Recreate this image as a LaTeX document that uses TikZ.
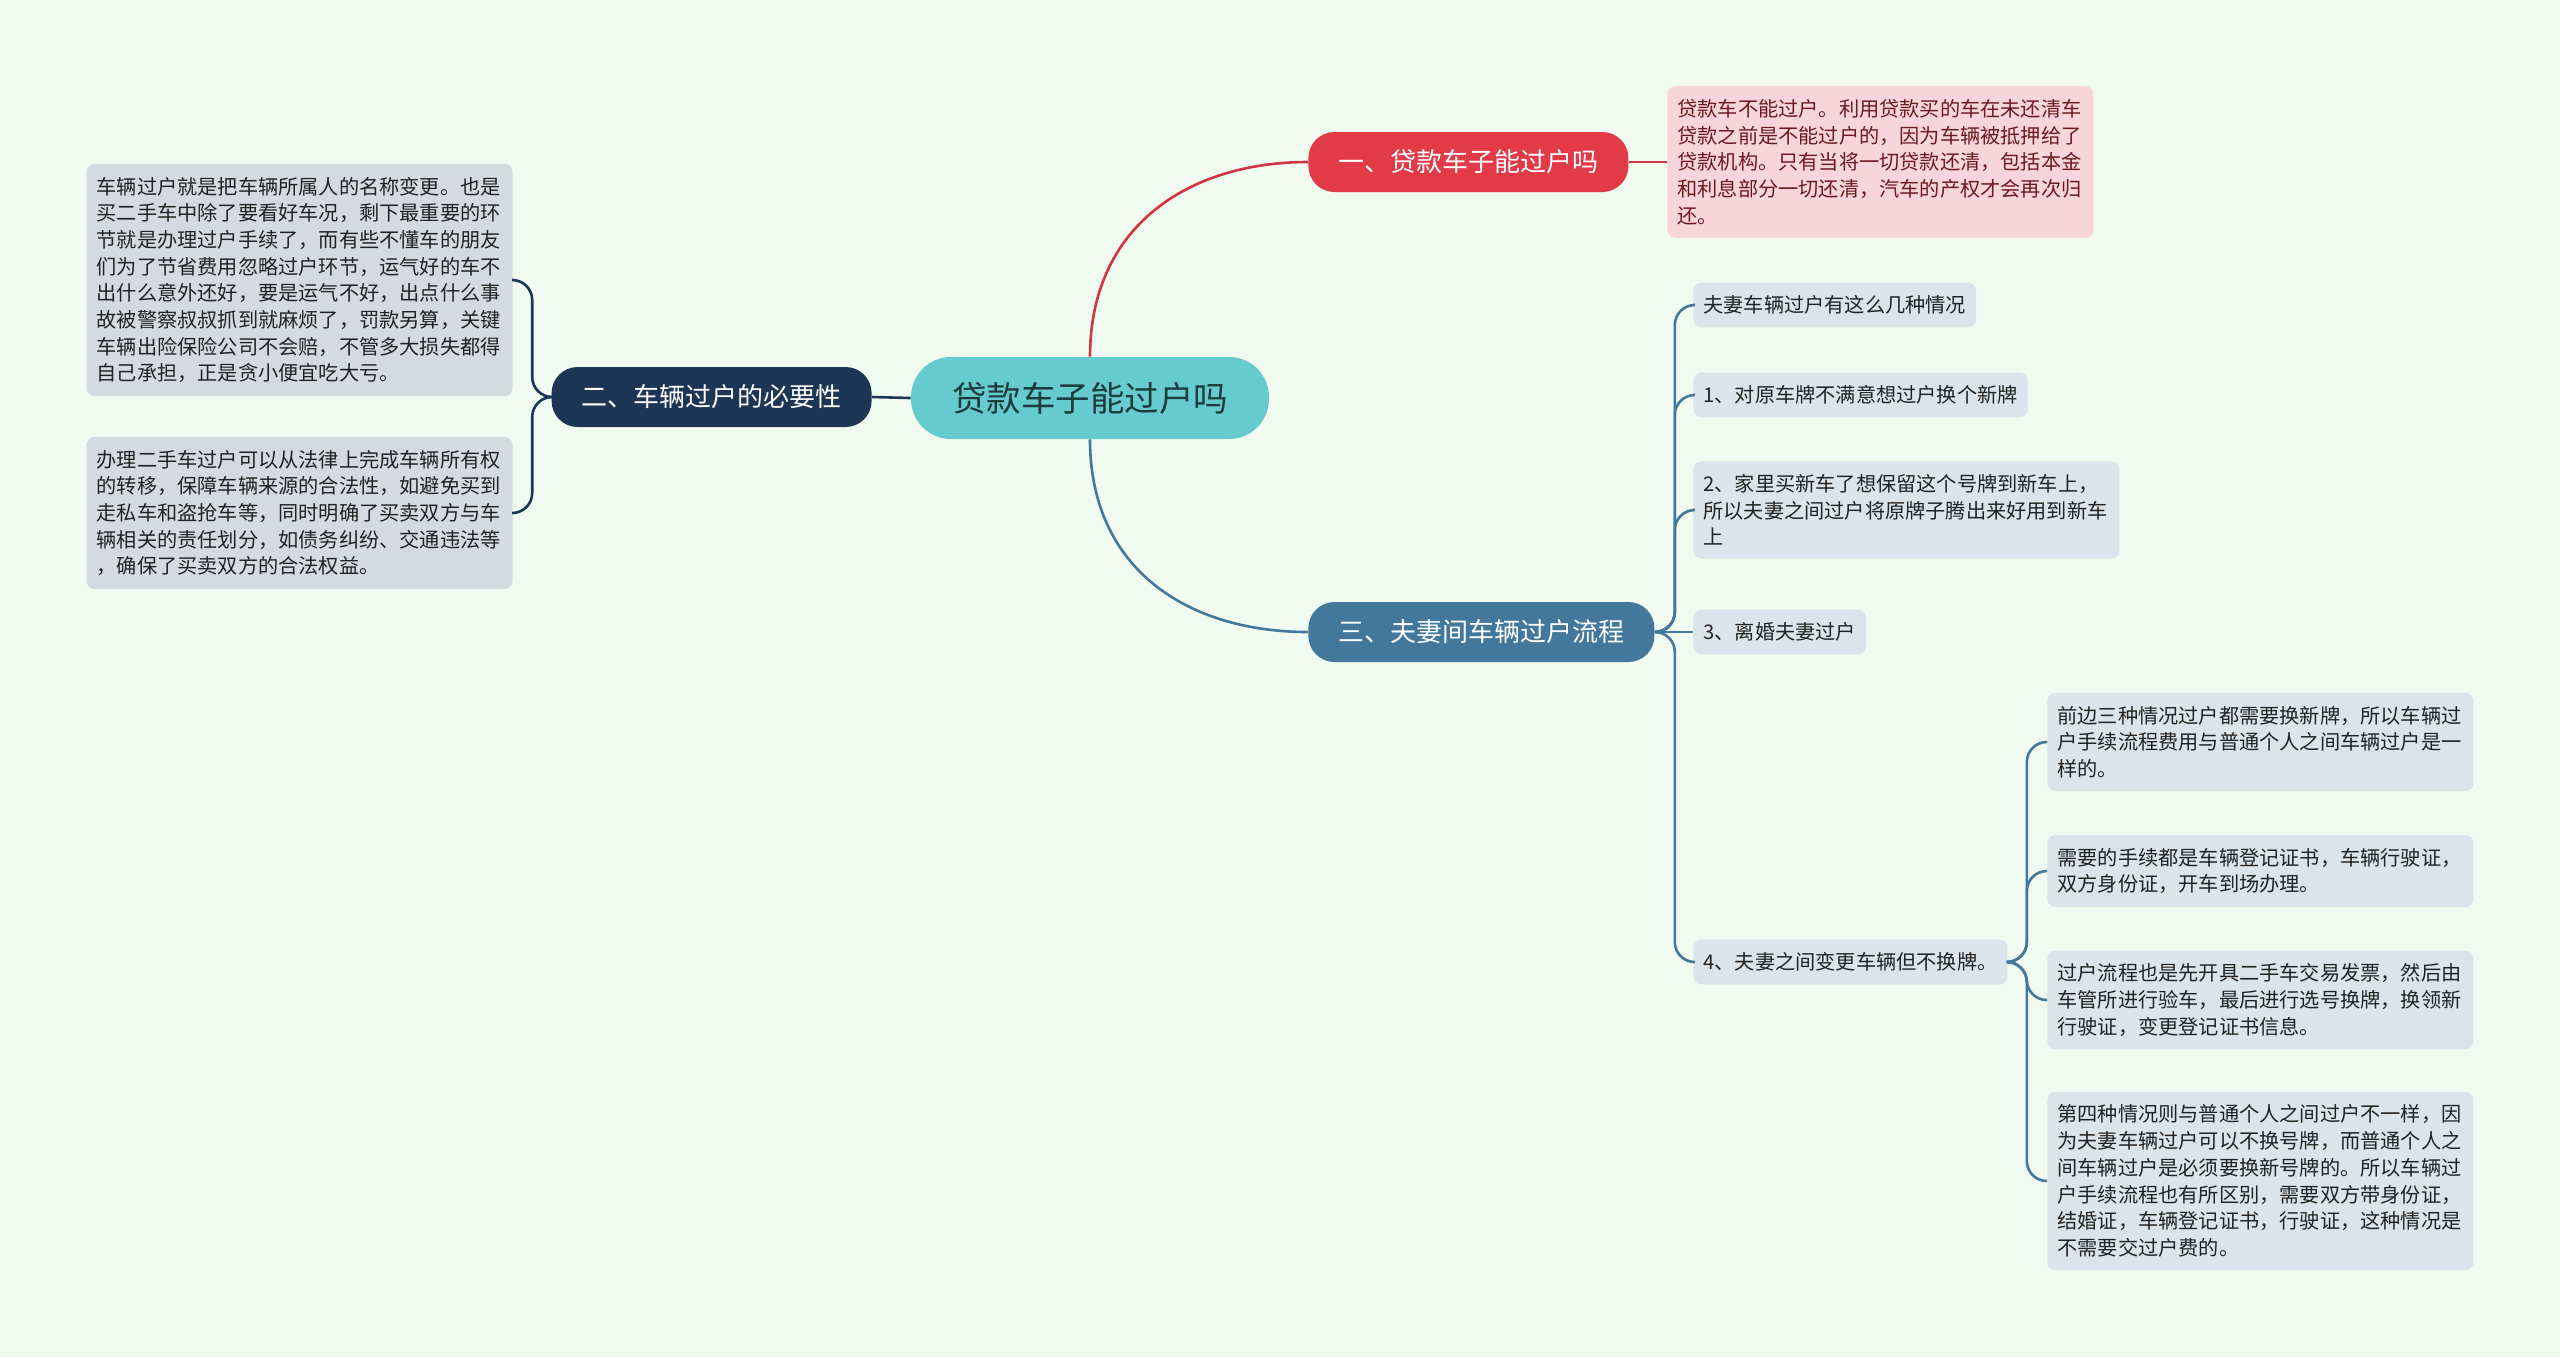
\documentclass[tikz,border=0pt]{standalone}
\usepackage{fontspec}
\setmainfont{Noto Sans CJK SC}
\usepackage{xcolor}
\usetikzlibrary{positioning, arrows.meta}
\definecolor{bgc}{HTML}{F1FAF0}
\definecolor{rootc}{HTML}{66CBCE}
\definecolor{roottxt}{HTML}{1D3B3D}
\definecolor{redc}{HTML}{E33A48}
\definecolor{bluec}{HTML}{43779B}
\definecolor{navyc}{HTML}{1E3656}
\definecolor{pinkc}{HTML}{F8D5DA}
\definecolor{pinktxt}{HTML}{6A1A20}
\definecolor{grayc}{HTML}{D5DAE0}
\definecolor{leafc}{HTML}{DAE4EA}
\definecolor{txtc}{HTML}{222222}

\begin{document}
\begin{tikzpicture}[
  x=0.5pt, y=-0.5pt,
  topic/.style={fill=rootc, text=roottxt, rounded corners=20pt, minimum height=41pt, inner xsep=20.5pt, font=\fontsize{17.25}{20}\selectfont},
  sub/.style={rounded corners=13pt, minimum height=30pt, inner xsep=15pt, text=white, font=\fontsize{13}{15}\selectfont},
  note/.style={fill=leafc, text=txtc, rounded corners=4pt, inner xsep=5pt, inner ysep=6.5pt, align=left, font=\fontsize{10.1}{13.35}\selectfont},
  wide/.style={note, text width=203pt},
  link/.style={line width=1.3pt, rounded corners=10pt}
]
\fill[bgc] (0,0) rectangle (2560,1357);
\useasboundingbox (0,0) rectangle (2560,1357);

\node[topic] (root) at (1090,398) {贷款车子能过户吗};
\node[sub, fill=redc, anchor=west] (n1) at (1308,162) {一、贷款车子能过户吗};
\node[sub, fill=navyc, anchor=east] (n2) at (872,397) {二、车辆过户的必要性};
\node[sub, fill=bluec, anchor=west] (n3) at (1308,632) {三、夫妻间车辆过户流程};

\node[wide, fill=pinkc, text=pinktxt, anchor=west] (p1) at (1667,162) {贷款车不能过户。利用贷款买的车在未还清车\\贷款之前是不能过户的，因为车辆被抵押给了\\贷款机构。只有当将一切贷款还清，包括本金\\和利息部分一切还清，汽车的产权才会再次归\\还。};

\node[wide, fill=grayc, anchor=east] (l1) at (513,280) {车辆过户就是把车辆所属人的名称变更。也是\\买二手车中除了要看好车况，剩下最重要的环\\节就是办理过户手续了，而有些不懂车的朋友\\们为了节省费用忽略过户环节，运气好的车不\\出什么意外还好，要是运气不好，出点什么事\\故被警察叔叔抓到就麻烦了，罚款另算，关键\\车辆出险保险公司不会赔，不管多大损失都得\\自己承担，正是贪小便宜吃大亏。};
\node[wide, fill=grayc, anchor=east] (l2) at (513,513) {办理二手车过户可以从法律上完成车辆所有权\\的转移，保障车辆来源的合法性，如避免买到\\走私车和盗抢车等，同时明确了买卖双方与车\\辆相关的责任划分，如债务纠纷、交通违法等\\，确保了买卖双方的合法权益。};

\node[note, anchor=west] (c0) at (1693,305) {夫妻车辆过户有这么几种情况};
\node[note, anchor=west] (c1) at (1693,395) {1、对原车牌不满意想过户换个新牌};
\node[wide, anchor=west] (c2) at (1693,510) {2、家里买新车了想保留这个号牌到新车上，\\所以夫妻之间过户将原牌子腾出来好用到新车\\上};
\node[note, anchor=west] (c3) at (1693,632) {3、离婚夫妻过户};
\node[note, anchor=west] (c4) at (1693,962) {4、夫妻之间变更车辆但不换牌。};

\node[wide, anchor=west] (d1) at (2047,742) {前边三种情况过户都需要换新牌，所以车辆过\\户手续流程费用与普通个人之间车辆过户是一\\样的。};
\node[wide, anchor=west] (d2) at (2047,871) {需要的手续都是车辆登记证书，车辆行驶证，\\双方身份证，开车到场办理。};
\node[wide, anchor=west] (d3) at (2047,1000) {过户流程也是先开具二手车交易发票，然后由\\车管所进行验车，最后进行选号换牌，换领新\\行驶证，变更登记证书信息。};
\node[wide, anchor=west] (d4) at (2047,1181) {第四种情况则与普通个人之间过户不一样，因\\为夫妻车辆过户可以不换号牌，而普通个人之\\间车辆过户是必须要换新号牌的。所以车辆过\\户手续流程也有所区别，需要双方带身份证，\\结婚证，车辆登记证书，行驶证，这种情况是\\不需要交过户费的。};

\draw[link, redc!92!black] (root.north) .. controls +(0,-130) and +(-120,0) .. (n1.west);
\draw[link, bluec] (root.south) .. controls +(0,130) and +(-120,0) .. (n3.west);
\draw[link, navyc] (root.west) -- (n2.east);
\draw[link, redc!92!black] (n1.east) -- (p1.west);
\foreach \l in {l1,l2}
  \draw[link, navyc] (n2.west) -- ++(-19,0) |- (\l.east);
\foreach \c in {c0,c1,c2,c4}
  \draw[link, bluec] (n3.east) -- ++(20,0) |- (\c.west);
\draw[link, bluec] (n3.east) -- (c3.west);
\foreach \d in {d1,d2,d3,d4}
  \draw[link, bluec] (c4.east) -- ++(19,0) |- (\d.west);
\end{tikzpicture}
\end{document}
